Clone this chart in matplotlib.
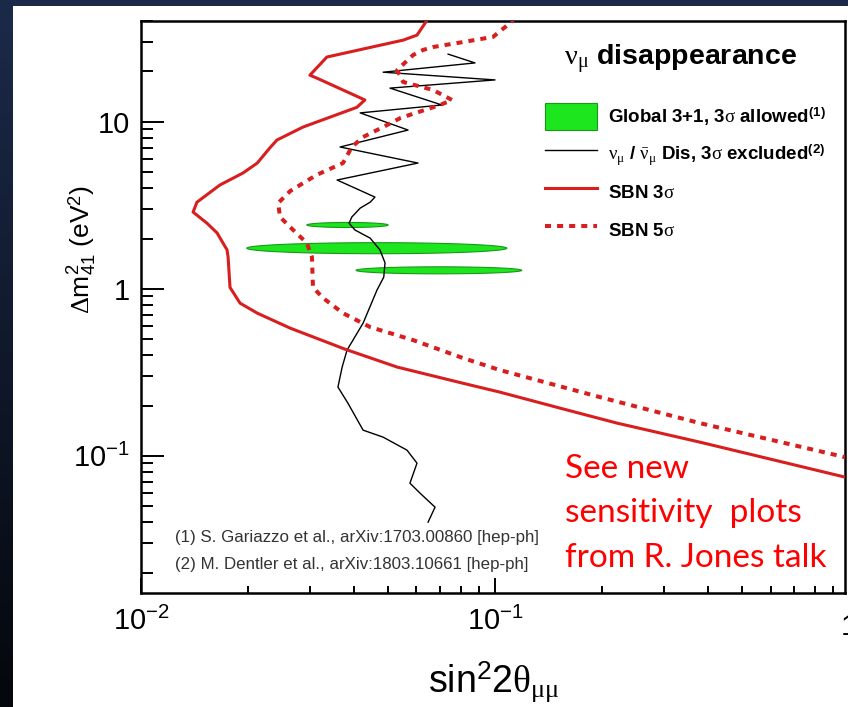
import numpy as np
import matplotlib
matplotlib.use('Agg')
import matplotlib.pyplot as plt
from matplotlib.patches import Rectangle, Patch
from matplotlib.lines import Line2D
from matplotlib.ticker import LogLocator, FuncFormatter, NullFormatter

plt.rcParams['font.family'] = ['Liberation Sans', 'DejaVu Sans']
plt.rcParams['mathtext.fontset'] = 'custom'
plt.rcParams['mathtext.rm'] = 'Liberation Serif'
plt.rcParams['mathtext.it'] = 'Liberation Serif:italic'
plt.rcParams['mathtext.bf'] = 'Liberation Sans:bold'
plt.rcParams['mathtext.sf'] = 'Liberation Sans'

# SBN 3 sigma sensitivity (solid)
sbn3_x = [0.065, 0.0602, 0.0550, 0.0335, 0.0300, 0.0313, 0.0429, 0.0407, 0.0287, 0.0242,
          0.0231, 0.0213, 0.0194, 0.0167, 0.01439, 0.01403, 0.01536, 0.01640, 0.01750, 0.01762,
          0.01784, 0.01904, 0.0213, 0.02636, 0.0377, 0.0529, 0.0812, 0.1033, 0.1527, 0.2212,
          0.379, 0.974, 1.0]
sbn3_y = [42.0, 33.0, 30.8, 24.4, 19.0, 18.3, 13.5, 12.2, 9.30, 7.77,
          6.96, 5.66, 4.93, 4.18, 3.30, 2.88, 2.47, 2.16, 1.71, 1.55,
          1.02, 0.821, 0.715, 0.582, 0.435, 0.340, 0.272, 0.2406, 0.193, 0.157,
          0.1208, 0.0746, 0.073]

# SBN 5 sigma sensitivity (dotted)
sbn5_x = [0.114, 0.1103, 0.0987, 0.0812, 0.0668, 0.0626, 0.0587, 0.0529, 0.0550, 0.0668,
          0.0756, 0.0699, 0.0575, 0.0539, 0.0495, 0.0424, 0.0394, 0.0372, 0.0313, 0.0264,
          0.0244, 0.0247, 0.0269, 0.0294, 0.0304, 0.0306, 0.0327, 0.0372, 0.0444, 0.0587,
          0.0812, 0.1033, 0.198, 0.379, 0.974, 1.0]
sbn5_y = [42.0, 39.0, 32.2, 30.0, 28.0, 26.9, 25.1, 20.4, 17.3, 15.5,
          13.5, 12.6, 11.0, 10.5, 9.55, 8.10, 7.06, 5.66, 4.80, 3.85,
          3.26, 2.69, 2.25, 1.88, 1.55, 1.02, 0.880, 0.715, 0.590, 0.493,
          0.385, 0.326, 0.2246, 0.157, 0.0982, 0.097]

# nu_mu / nu_mu-bar disappearance, 3 sigma excluded
dis_x = [0.0737, 0.0878, 0.0483, 0.100, 0.0505, 0.0708, 0.0416, 0.0568, 0.0365, 0.0606,
         0.0358, 0.0458, 0.0444, 0.0416, 0.0394, 0.0387, 0.0402, 0.0444, 0.0473, 0.0489,
         0.0485, 0.0464, 0.0424, 0.0382, 0.0370, 0.0360, 0.0384, 0.0424, 0.0483, 0.0564,
         0.0602, 0.0575, 0.0614, 0.0677, 0.0647]
dis_y = [25.4, 22.5, 19.8, 17.8, 15.9, 12.6, 11.3, 8.92, 7.06, 5.66,
         4.48, 3.54, 3.30, 3.04, 2.69, 2.47, 2.25, 2.01, 1.71, 1.43,
         1.175, 0.982, 0.623, 0.430, 0.340, 0.258, 0.207, 0.1425, 0.1294, 0.1082,
         0.0904, 0.0686, 0.0598, 0.0493, 0.0401]

# Global 3+1 allowed islands: x extent, centre dm2, half thickness (decades)
isl_xmin = [0.0294, 0.0199, 0.0405]
isl_xmax = [0.0499, 0.108, 0.119]
isl_ycen = [2.41, 1.75, 1.29]
isl_dex = [0.015, 0.033, 0.021]

red = '#d81e1e'
green = '#1ee61e'
dkgreen = '#169a16'

fig = plt.figure(figsize=(8.48, 7.07), dpi=100, facecolor='white')

# slide background: navy strip at top, gradient strip at left
fig.patches.append(Rectangle((0, 1 - 6 / 707), 1, 6 / 707, transform=fig.transFigure,
                             facecolor='#1c2a4a', edgecolor='none', zorder=-5))
bg = fig.add_axes([0, 0, 13 / 848, 1])
grad = np.linspace(0, 1, 256).reshape(-1, 1)
bg.imshow(grad, aspect='auto', cmap=matplotlib.colors.LinearSegmentedColormap.from_list(
    'slide', ['#1c2a4a', '#04070c']), extent=[0, 1, 0, 1], origin='upper')
bg.axis('off')

ax = fig.add_axes([141 / 848, 114 / 707, 704 / 848, 572 / 707])
ax.set_xscale('log')
ax.set_yscale('log')
ax.set_xlim(0.01, 0.974)
ax.set_ylim(0.0151, 40.1)

t = np.linspace(0, 2 * np.pi, 300)
for x0, x1, yc, dy in zip(isl_xmin, isl_xmax, isl_ycen, isl_dex):
    lx0, lx1 = np.log10(x0), np.log10(x1)
    lx = (lx0 + lx1) / 2 + (lx1 - lx0) / 2 * np.cos(t)
    ly = np.log10(yc) + dy * np.sin(t)
    ax.fill(10 ** lx, 10 ** ly, facecolor=green, edgecolor=dkgreen, lw=0.8, zorder=1)

ax.plot(dis_x, dis_y, color='black', lw=1.0, zorder=2)
ax.plot(sbn3_x, sbn3_y, color=red, lw=2.2, zorder=3)
ax.plot(sbn5_x, sbn5_y, color=red, lw=2.9, ls=(0, (1.5, 1.5)), dash_capstyle='butt', zorder=3)

# axes styling
for s in ax.spines.values():
    s.set_linewidth(1.8)
ax.xaxis.set_major_locator(LogLocator(base=10, numticks=10))
ax.xaxis.set_minor_locator(LogLocator(base=10, subs=np.arange(2, 10), numticks=20))
ax.yaxis.set_major_locator(LogLocator(base=10, numticks=10))
ax.yaxis.set_minor_locator(LogLocator(base=10, subs=np.arange(2, 10), numticks=20))
ax.xaxis.set_minor_formatter(NullFormatter())
ax.yaxis.set_minor_formatter(NullFormatter())


def tick_fmt(v, pos):
    e = int(round(np.log10(v)))
    if e == 0:
        return '1'
    if e == 1:
        return '10'
    return r'$\mathsf{10^{%d}}$' % e


ax.xaxis.set_major_formatter(FuncFormatter(tick_fmt))
ax.yaxis.set_major_formatter(FuncFormatter(tick_fmt))
ax.tick_params(axis='both', which='both', direction='in', top=False, right=False,
               labelsize=21, width=1.4)
ax.tick_params(axis='y', which='major', length=16.5, pad=8)
ax.tick_params(axis='y', which='minor', length=8.5)
ax.tick_params(axis='x', which='major', length=11, pad=10)
ax.tick_params(axis='x', which='minor', length=5)
# the "1" label sits at the clipped right edge of the frame
ax.text(1.0, -0.035, '1', transform=ax.get_xaxis_transform(), ha='center', va='top',
        fontsize=21, clip_on=False)

ax.set_xlabel(r'sin$^{\mathsf{2}}$2$\mathrm{\theta}_{\mathrm{\mu\mu}}$', fontsize=27)
ax.xaxis.label.set_va('baseline')
ax.xaxis.set_label_coords(0.501, -0.174)
ax.set_ylabel(r'$\mathrm{\Delta}\mathsf{m}^{\mathsf{2}}_{\mathsf{41}}$ (eV$^{\mathsf{2}}$)', fontsize=19)
ax.yaxis.label.set_va('center')
ax.yaxis.set_label_coords(-0.084, 0.60)

# legend
ax.text(0.767, 0.923, r'$\mathrm{\nu_{\mu}}$ disappearance', transform=ax.transAxes,
        ha='center', va='baseline', fontsize=20.5, fontweight='bold')
handles = [Patch(facecolor=green, edgecolor=dkgreen, lw=0.8),
           Line2D([], [], color='black', lw=1.0),
           Line2D([], [], color=red, lw=2.2),
           Line2D([], [], color=red, lw=2.9, ls=(0, (1.5, 1.5)), dash_capstyle='butt')]
labels = [r'Global 3+1, 3$\mathrm{\sigma}$ allowed$^{\mathbf{(1)}}$',
          r'$\mathrm{\nu_{\mu}}$ / $\mathrm{\bar{\nu}_{\mu}}$ Dis, 3$\mathrm{\sigma}$ excluded$^{\mathbf{(2)}}$',
          r'SBN 3$\mathrm{\sigma}$',
          r'SBN 5$\mathrm{\sigma}$']
ax.legend(handles, labels, loc='upper left', bbox_to_anchor=(0.574, 0.8566), frameon=False,
          borderpad=0, borderaxespad=0, handlelength=2.77, handleheight=1.84, handletextpad=0.59,
          labelspacing=0.57, prop={'weight': 'bold', 'size': 13.5})

# references
ax.text(0.048, 0.0892, '(1) S. Gariazzo et al., arXiv:1703.00860 [hep-ph]', transform=ax.transAxes,
        va='baseline', fontsize=12.2, color='#333333')
ax.text(0.048, 0.0411, '(2) M. Dentler et al., arXiv:1803.10661 [hep-ph]', transform=ax.transAxes,
        va='baseline', fontsize=12.2, color='#333333')

# slide annotation
note = ['See new', 'sensitivity  plots', 'from R. Jones talk']
for i, line in enumerate(note):
    ax.text(0.602, (593 - 478.3 - 44.2 * i) / 572, line, transform=ax.transAxes, va='baseline',
            fontsize=24, color='#ff0000', family=['Lato', 'DejaVu Sans'])

fig.savefig('out.png', dpi=100)
